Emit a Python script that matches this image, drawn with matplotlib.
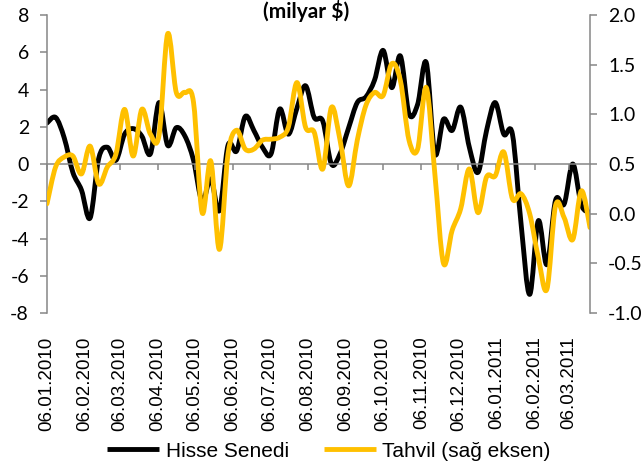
import pandas as pd
import matplotlib
matplotlib.use("Agg")
import matplotlib.pyplot as plt
import matplotlib.dates as mdates
from matplotlib.path import Path
from matplotlib.patches import PathPatch
from matplotlib.lines import Line2D

# haftalik veriler, 06.01.2010'dan itibaren
dates = pd.date_range("2010-01-06", periods=64, freq="7D")

hisse = [2.2, 2.5, 1.4, -0.45, -1.4, -2.9, 0.3, 0.9, 0.2, 1.6,
         1.9, 1.5, 0.55, 3.3, 1.0, 1.95, 1.5, 0.2, -2.0, -0.8,
         -2.5, 1.0, 0.7, 2.55, 1.8, 0.9, 0.55, 2.95, 1.6, 3.0,
         4.2, 2.5, 2.3, 0.0, 0.55, 1.95, 3.3, 3.6, 4.5, 6.1,
         4.1, 5.8, 2.7, 3.2, 5.45, 0.55, 2.4, 1.8, 3.05, 0.9,
         -0.45, 1.8, 3.3, 1.6, 1.6, -3.2, -7.0, -3.05, -5.4, -1.95,
         -2.15, 0.0, -2.2, -2.6]

tahvil = [0.10, 0.47, 0.57, 0.58, 0.40, 0.68, 0.30, 0.47, 0.60, 1.05,
          0.58, 1.05, 0.80, 0.79, 1.81, 1.22, 1.22, 1.12, 0.01, 0.53,
          -0.36, 0.60, 0.84, 0.65, 0.65, 0.74, 0.75, 0.77, 0.87, 1.32,
          0.87, 0.82, 0.45, 1.07, 0.74, 0.28, 0.74, 1.09, 1.22, 1.19,
          1.51, 1.34, 0.74, 0.65, 1.27, 0.40, -0.50, -0.17, 0.05, 0.45,
          0.01, 0.37, 0.38, 0.62, 0.15, 0.20, 0.00, -0.44, -0.76, 0.08,
          -0.04, -0.26, 0.23, -0.14]

left_ticks = [-8, -6, -4, -2, 0, 2, 4, 6, 8]
right_ticks = [-1.0, -0.5, 0.0, 0.5, 1.0, 1.5, 2.0]

GRAY = "#868686"
BLACK = "#000000"
GOLD = "#FFC000"


def smooth_line(ax, x, y, color, lw):
    # excel tarzi yumusatilmis cizgi (bezier)
    pts = list(zip(mdates.date2num(x), y))
    n = len(pts)
    verts = [pts[0]]
    codes = [Path.MOVETO]
    for i in range(n - 1):
        p0 = pts[max(i - 1, 0)]
        p1 = pts[i]
        p2 = pts[i + 1]
        p3 = pts[min(i + 2, n - 1)]
        c1 = (p1[0] + (p2[0] - p0[0]) / 6, p1[1] + (p2[1] - p0[1]) / 6)
        c2 = (p2[0] - (p3[0] - p1[0]) / 6, p2[1] - (p3[1] - p1[1]) / 6)
        verts += [c1, c2, p2]
        codes += [Path.CURVE4] * 3
    patch = PathPatch(Path(verts, codes), fill=False, edgecolor=color,
                      lw=lw, capstyle="round", joinstyle="round")
    ax.add_patch(patch)


fig = plt.figure(figsize=(6.44, 4.65), dpi=100)
ax = fig.add_axes([47 / 644, 1 - 313 / 465, 543 / 644, 298 / 465])
ax2 = ax.twinx()

smooth_line(ax, dates, hisse, BLACK, 3.5)
smooth_line(ax2, dates, tahvil, GOLD, 3.5)

ax.set_xlim(dates[0], dates[-1])
ax.set_ylim(-8, 8)
ax2.set_ylim(-1.0, 2.0)

ax.set_yticks(left_ticks)
ax.set_yticklabels([str(t) for t in left_ticks])
ax2.set_yticks(right_ticks)
ax2.set_yticklabels(["%.1f" % t for t in right_ticks])

# x ekseni sifir cizgisinde, etiketler altta
ax.spines["bottom"].set_visible(False)
ax.spines["top"].set_position(("data", 0))
ax.spines["top"].set_color(GRAY)
ax.spines["top"].set_linewidth(1.1)
ax.spines["left"].set_color(GRAY)
ax.spines["left"].set_linewidth(1.1)
ax.spines["right"].set_visible(False)
for s in ["top", "bottom", "left"]:
    ax2.spines[s].set_visible(False)
ax2.spines["right"].set_color(GRAY)
ax2.spines["right"].set_linewidth(1.1)

ax.xaxis.set_major_locator(mdates.MonthLocator(bymonthday=6))
ax.xaxis.set_major_formatter(mdates.DateFormatter("%d.%m.%Y"))
ax.tick_params(axis="x", top=True, bottom=False, labeltop=False,
               labelbottom=True, direction="in", length=4, width=1.1,
               color=GRAY, pad=17, labelrotation=90)
for lab in ax.get_xticklabels():
    lab.set_fontfamily("Liberation Sans")
    lab.set_fontsize(13.5)

ax.tick_params(axis="y", direction="out", length=5, width=1.1, color=GRAY,
               pad=8)
ax2.tick_params(axis="y", direction="out", length=5, width=1.1, color=GRAY,
                pad=8)
for lab in ax.get_yticklabels() + ax2.get_yticklabels():
    lab.set_fontfamily("Lato")
    lab.set_fontsize(14)

fig.text(306 / 644, 1 - 18 / 465, "(milyar $)", ha="center", va="baseline",
         fontfamily="Lato", fontweight="bold", fontsize=15)

handles = [Line2D([], [], color=BLACK, lw=3.5, solid_capstyle="butt"),
           Line2D([], [], color=GOLD, lw=3.5, solid_capstyle="butt")]
fig.legend(handles, ["Hisse Senedi", "Tahvil (sağ eksen)"], loc="center",
           bbox_to_anchor=(329 / 644, 1 - 451 / 465), ncol=2, frameon=False,
           prop={"family": "Liberation Sans", "size": 15},
           handlelength=2.5, handletextpad=0.3, columnspacing=1.7)

fig.savefig("out.png", dpi=100)
